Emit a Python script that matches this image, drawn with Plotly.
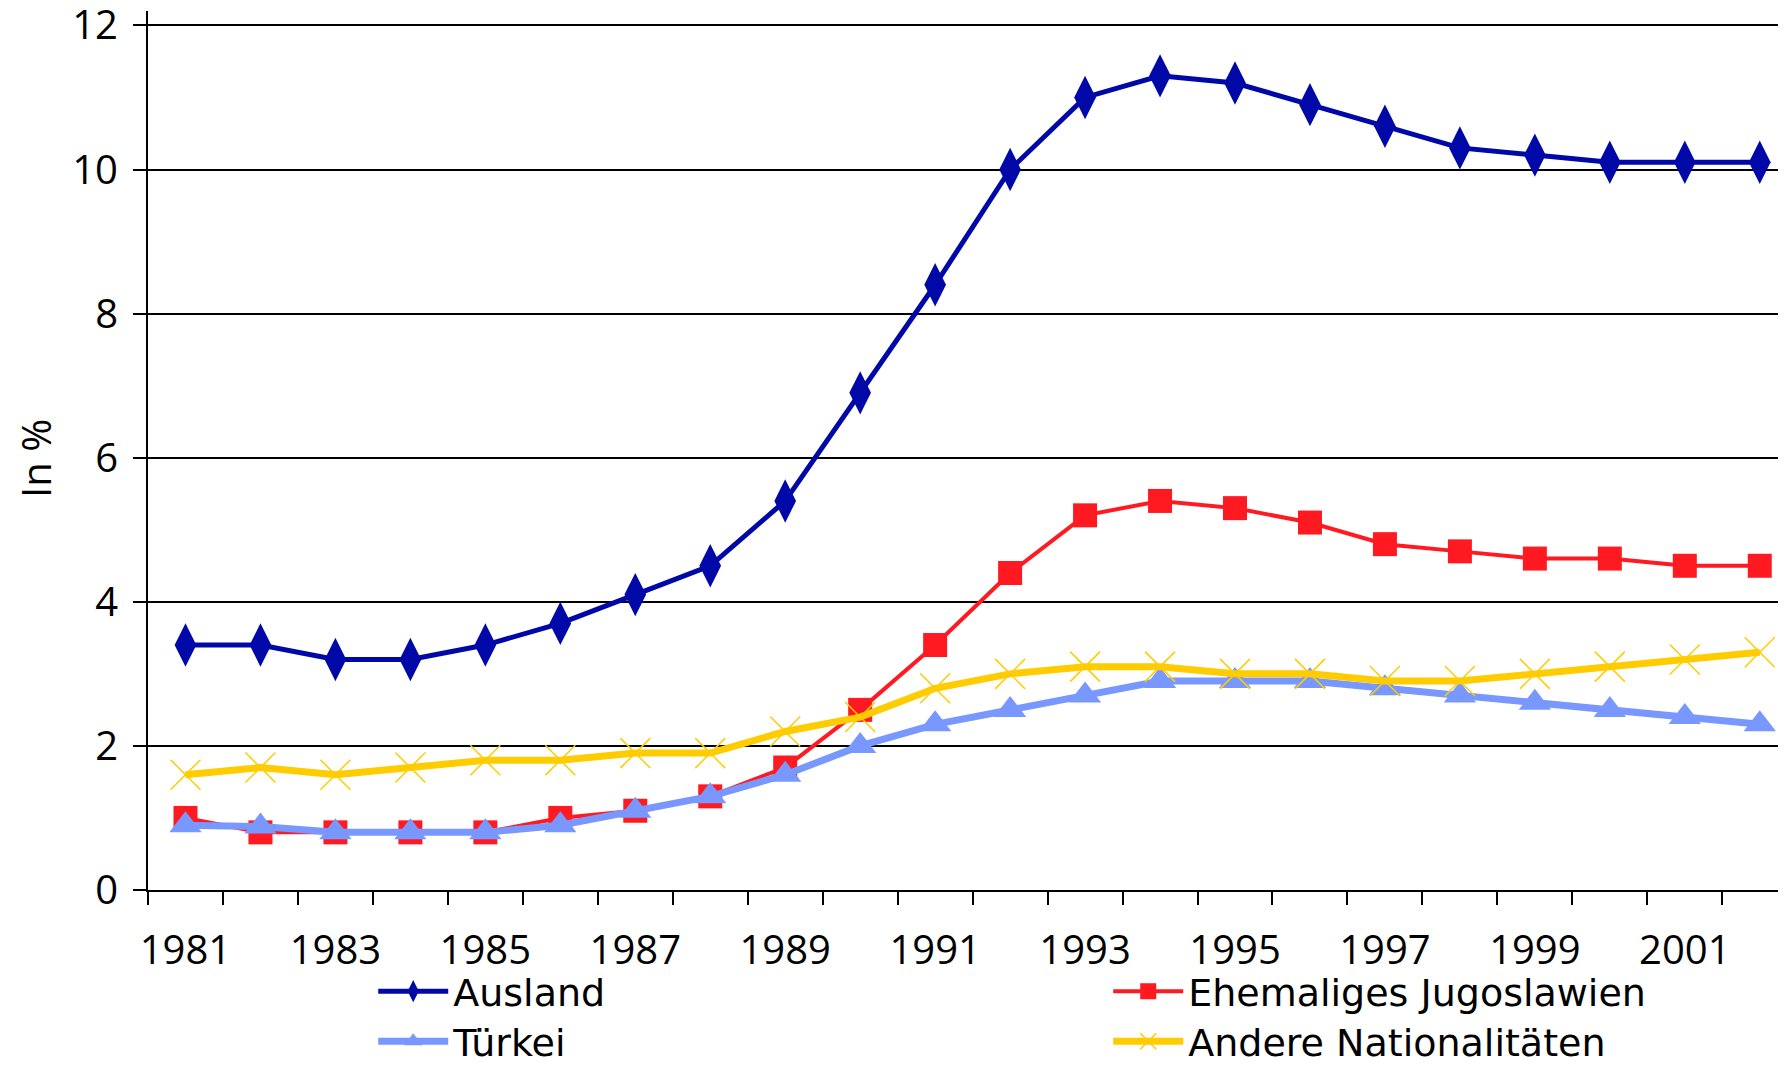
import plotly.graph_objects as go

years = list(range(1981, 2003))
ausland = [3.4, 3.4, 3.2, 3.2, 3.4, 3.7, 4.1, 4.5, 5.4, 6.9, 8.4, 10.0,
           11.0, 11.3, 11.2, 10.9, 10.6, 10.3, 10.2, 10.1, 10.1, 10.1]
jugoslawien = [1.0, 0.8, 0.8, 0.8, 0.8, 1.0, 1.1, 1.3, 1.7, 2.5, 3.4, 4.4,
               5.2, 5.4, 5.3, 5.1, 4.8, 4.7, 4.6, 4.6, 4.5, 4.5]
tuerkei = [0.9, 0.88, 0.8, 0.8, 0.8, 0.9, 1.1, 1.3, 1.6, 2.0, 2.3, 2.5,
           2.7, 2.9, 2.9, 2.9, 2.8, 2.7, 2.6, 2.5, 2.4, 2.3]
andere = [1.6, 1.7, 1.6, 1.7, 1.8, 1.8, 1.9, 1.9, 2.2, 2.4, 2.8, 3.0,
          3.1, 3.1, 3.0, 3.0, 2.9, 2.9, 3.0, 3.1, 3.2, 3.3]
label_years = list(range(1981, 2002, 2))

FONT = "Open Sans"
LEG_FONT = "DejaVu Sans"
FS = 40

fig = go.Figure()

# drawing order differs from legend order; legend rows split over two legends
fig.add_trace(go.Scatter(
    x=years, y=jugoslawien, name="Ehemaliges Jugoslawien", mode="lines+markers",
    line=dict(color="#ff1a22", width=4),
    marker=dict(symbol="square", size=24, color="#ff1a22"),
    legend="legend", legendrank=2,
))
fig.add_trace(go.Scatter(
    x=years, y=tuerkei, name="Türkei", mode="lines+markers",
    line=dict(color="#7897ff", width=7),
    marker=dict(symbol="triangle-up", size=28, color="#7897ff"),
    legend="legend2", legendrank=1,
))
fig.add_trace(go.Scatter(
    x=years, y=andere, name="Andere Nationalitäten", mode="lines+markers",
    line=dict(color="#ffcc00", width=7),
    marker=dict(symbol="x-thin-open", size=30, color="#ffcc00",
                line=dict(color="#ffcc00", width=1.5)),
    legend="legend2", legendrank=2,
))
fig.add_trace(go.Scatter(
    x=years, y=ausland, name="Ausland", mode="lines+markers",
    line=dict(color="#0008a8", width=5),
    marker=dict(symbol="diamond-tall", size=31, color="#0008a8"),
    legend="legend", legendrank=1,
))

legend_style = dict(
    orientation="h",
    xanchor="left",
    entrywidth=650, entrywidthmode="pixels",
    font=dict(family=LEG_FONT, size=38, color="black"),
    bgcolor="rgba(0,0,0,0)",
    itemwidth=70,
)

# page body has an 8px margin, so the figure is 8px smaller and offset
fig.update_layout(
    width=1778,
    height=1067,
    paper_bgcolor="white",
    plot_bgcolor="white",
    margin=dict(l=140, r=0, t=3, b=185, autoexpand=False),
    font=dict(family=FONT, size=FS, color="black"),
    showlegend=True,
    legend=dict(x=0.1375, y=-0.0796, yanchor="top", **legend_style),
    legend2=dict(x=0.1375, y=-0.2082, yanchor="bottom", **legend_style),
    xaxis=dict(
        range=[1980.5, 2002.35],
        tickmode="array",
        tickvals=label_years,
        ticktext=[str(y) for y in label_years],
        ticks="",
        ticklabelstandoff=24,
        showgrid=False,
        showline=True, linecolor="black", linewidth=2,
        zeroline=False,
        minor=dict(ticks="outside", tick0=1980.5, dtick=1, ticklen=13,
                   tickwidth=2, tickcolor="black", showgrid=False),
        tickfont=dict(family=FONT, size=FS, color="black"),
    ),
    yaxis=dict(
        range=[0, 12.2],
        tickmode="array",
        tickvals=[0, 2, 4, 6, 8, 10, 12],
        ticks="outside", ticklen=13, tickwidth=2, tickcolor="black",
        ticklabelstandoff=7,
        ticklabeloverflow="allow",
        showgrid=True, gridcolor="black", gridwidth=2,
        showline=True, linecolor="black", linewidth=2,
        zeroline=False,
        tickfont=dict(family=FONT, size=FS, color="black"),
    ),
    annotations=[dict(
        text="In %", textangle=-90, showarrow=False,
        xref="paper", yref="paper", x=-0.0684, y=0.4915,
        xanchor="center", yanchor="middle",
        font=dict(family=FONT, size=FS, color="black"),
    )],
)

fig.write_html("out.html")
